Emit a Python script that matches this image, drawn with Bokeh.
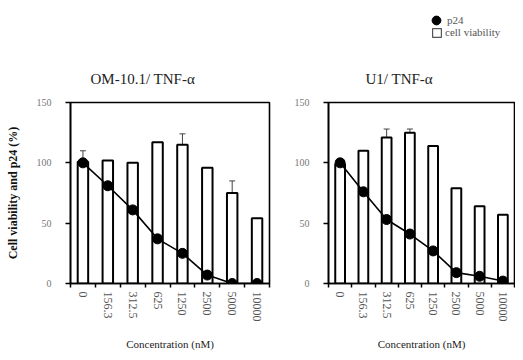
from bokeh.plotting import figure
from bokeh.layouts import row, column
from bokeh.models import (Range1d, FixedTicker, ColumnDataSource, Whisker, TeeHead,
                          Legend, LegendItem, Title)
from bokeh.embed import file_html
from bokeh.resources import INLINE

concentrations = ["0", "156.3", "312.5", "625", "1250", "2500", "5000", "10000"]

om_viability = [101, 102, 100, 117, 115, 96, 75, 54]
om_viability_err = [9, 0, 0, 0, 9, 0, 10, 0]
om_p24 = [100, 81, 61, 37, 25, 7, 0, 0]

u1_viability = [99, 110, 121, 125, 114, 79, 64, 57]
u1_viability_err = [0, 0, 7, 3, 0, 0, 0, 0]
u1_p24 = [100, 76, 53, 41, 27, 9, 6, 2]

y_ticks = [0, 50, 100, 150]

SERIF = "Liberation Serif"
PANEL_H = 312


def make_panel(title, viability, err, p24, width, border_left, border_right, title_offset, with_ylabel):
    idx = list(range(len(concentrations)))
    p = figure(width=width, height=PANEL_H, output_backend="svg", toolbar_location=None,
               x_range=Range1d(-0.5, len(concentrations) - 0.5), y_range=Range1d(0, 150),
               min_border_left=border_left, min_border_right=border_right,
               min_border_top=62, min_border_bottom=64)
    p.grid.visible = False
    p.outline_line_color = "black"
    p.outline_line_width = 1.6
    p.background_fill_color = "white"
    p.border_fill_color = "white"

    t = Title(text=title, align="left", offset=title_offset, text_font=SERIF,
              text_font_size="15px", text_font_style="normal", text_color="#222222",
              standoff=31)
    p.add_layout(t, "above")

    src = ColumnDataSource(dict(x=idx, v=viability, p24=p24))
    p.vbar(x="x", top="v", width=0.42, bottom=0, source=src,
           fill_color="white", line_color="black", line_width=2)

    ex = [i for i, e in zip(idx, err) if e > 0]
    ev = [v for v, e in zip(viability, err) if e > 0]
    eu = [v + e for v, e in zip(viability, err) if e > 0]
    esrc = ColumnDataSource(dict(x=ex, base=ev, upper=eu))
    w = Whisker(source=esrc, base="x", upper="upper", lower="base",
                line_color="#444444", line_width=1,
                upper_head=TeeHead(size=6, line_color="#444444", line_width=1),
                lower_head=None)
    p.add_layout(w)

    p.line(x="x", y="p24", source=src, line_color="black", line_width=1.6)
    p.scatter(x="x", y="p24", source=src, size=10, marker="circle",
              fill_color="black", line_color="black")

    xa = p.xaxis[0]
    xa.ticker = FixedTicker(ticks=idx, minor_ticks=[i + 0.5 for i in range(-1, len(idx))])
    xa.major_label_overrides = {i: c for i, c in zip(idx, concentrations)}
    xa.major_label_orientation = "vertical"
    xa.major_tick_out = 0
    xa.major_tick_in = 0
    xa.minor_tick_out = 4
    xa.minor_tick_in = 0
    xa.minor_tick_line_color = "black"
    xa.minor_tick_line_width = 1.5
    xa.major_label_standoff = 4
    xa.major_label_text_font = SERIF
    xa.major_label_text_font_size = "12px"
    xa.major_label_text_color = "#555555"
    xa.axis_line_color = "black"
    xa.axis_line_width = 1.6
    xa.axis_label = "Concentration (nM)"
    xa.axis_label_text_font = SERIF
    xa.axis_label_text_font_size = "11px"
    xa.axis_label_text_font_style = "normal"
    xa.axis_label_text_color = "#222222"
    xa.axis_label_standoff = 13

    ya = p.yaxis[0]
    ya.ticker = FixedTicker(ticks=y_ticks, minor_ticks=[])
    ya.major_tick_out = 5
    ya.major_tick_in = 0
    ya.major_tick_line_width = 1.5
    ya.major_label_standoff = 14
    ya.major_label_text_font = SERIF
    ya.major_label_text_font_size = "10px"
    ya.major_label_text_color = "#777777"
    ya.axis_line_color = "black"
    ya.axis_line_width = 1.6
    if with_ylabel:
        ya.axis_label = "Cell viability and p24 (%)"
        ya.axis_label_text_font = SERIF
        ya.axis_label_text_font_size = "12px"
        ya.axis_label_text_font_style = "bold"
        ya.axis_label_text_color = "#111111"
        ya.axis_label_standoff = 14
    return p


p1 = make_panel("OM-10.1/ TNF-\u03b1", om_viability, om_viability_err, om_p24,
                276, 70, 7, 20, True)
p2 = make_panel("U1/ TNF-\u03b1", u1_viability, u1_viability_err, u1_p24,
                239, 52, 1, 37, False)

# legend strip above the two panels; its renderers use real data kept out of view
lf = figure(width=515, height=40, output_backend="svg", toolbar_location=None,
            x_range=Range1d(1000, 1001), y_range=Range1d(1000, 1001),
            x_axis_location=None, y_axis_location=None,
            min_border_left=0, min_border_right=0, min_border_top=0, min_border_bottom=0)
lf.grid.visible = False
lf.outline_line_color = None
lsrc = ColumnDataSource(dict(x=list(range(len(concentrations))), v=u1_viability, p24=u1_p24))
dot_r = lf.scatter(x="x", y="p24", source=lsrc, size=10, marker="circle",
                   fill_color="black", line_color="black")
bar_r = lf.vbar(x="x", top="v", source=lsrc, width=0.4, fill_color="white",
                line_color="#555555", line_width=1.2)

leg_common = dict(label_text_font=SERIF, label_text_font_size="11px", label_text_color="#555555",
                  padding=0, margin=0, border_line_color=None, background_fill_alpha=0,
                  orientation="vertical")
leg1 = Legend(items=[LegendItem(label="p24", renderers=[dot_r])], location=(425, 9),
              glyph_width=22, glyph_height=22, label_height=22, label_standoff=0, **leg_common)
leg2 = Legend(items=[LegendItem(label="cell viability", renderers=[bar_r])], location=(431, 2),
              glyph_width=11, glyph_height=11, label_height=11, label_standoff=3, **leg_common)
lf.add_layout(leg1)
lf.add_layout(leg2)

layout = column(lf, row(p1, p2))
open("out.html", "w").write(file_html(layout, INLINE))
